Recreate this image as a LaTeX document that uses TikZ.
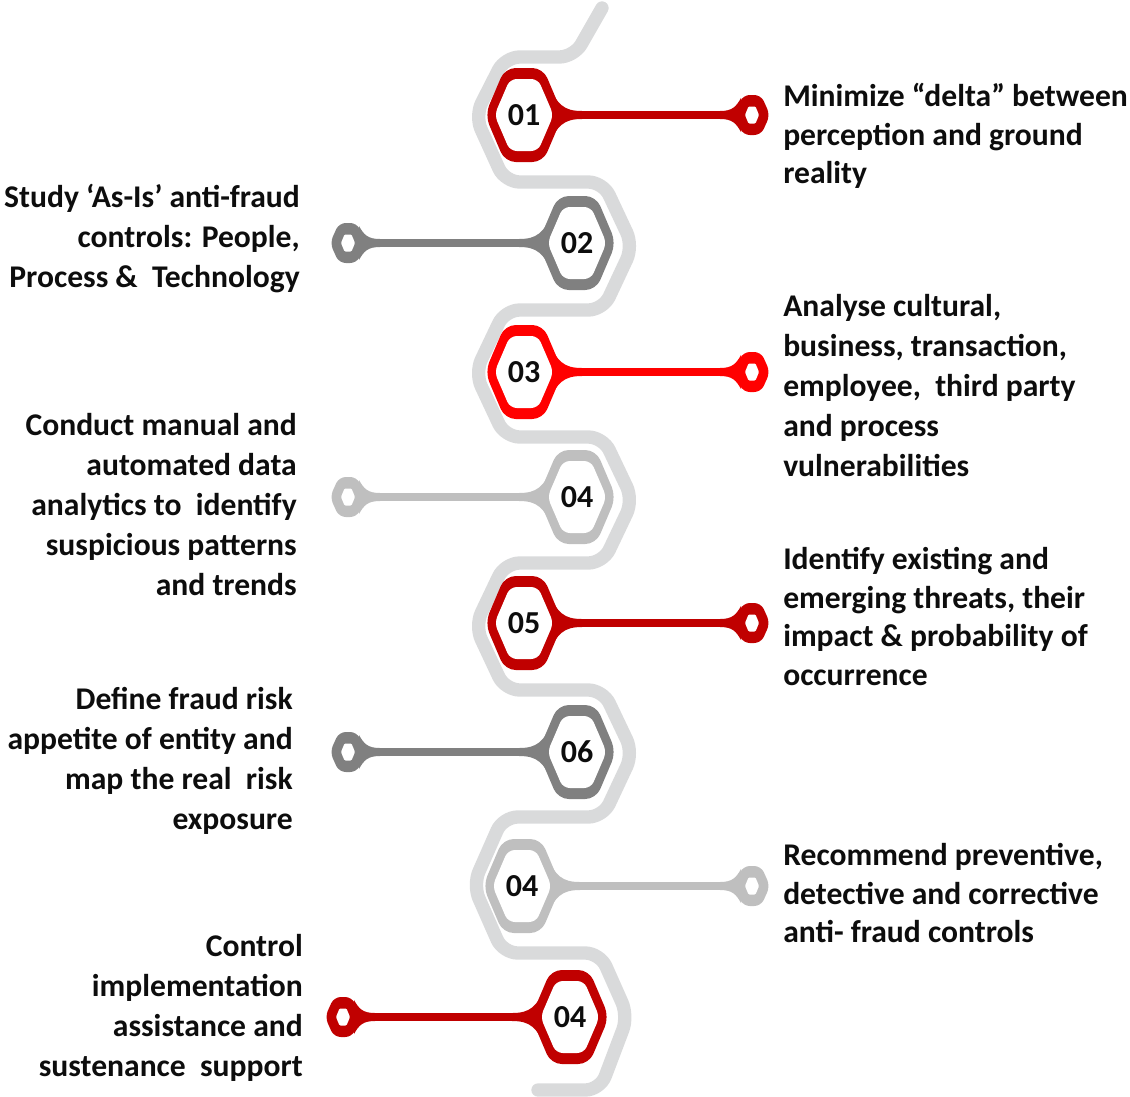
\documentclass[tikz,border=0pt]{standalone}
\usepackage{fontspec}
\setmainfont{Carlito}
\definecolor{darkred}{HTML}{C00000}
\definecolor{brightred}{HTML}{FF0000}
\definecolor{midgray}{HTML}{808080}
\definecolor{palegray}{HTML}{BFBFBF}
\definecolor{snakegray}{HTML}{D9DADB}
\definecolor{textblack}{HTML}{0D0D0D}
\begin{document}
\begin{tikzpicture}[x=0.75pt,y=0.75pt,yscale=-1,xscale=1,
	snake/.style={draw=snakegray, line width=10pt, rounded corners=11pt, line cap=round, line join=round},
	conn/.style={line width=6pt},
	num/.style={font=\fontsize{24}{28}\selectfont\bfseries, text=textblack, inner sep=0pt},
	txt/.style={font=\fontsize{23.7}{30}\selectfont\bfseries, text=textblack, inner sep=0pt},
	txtb/.style={font=\fontsize{23.7}{29}\selectfont\bfseries, text=textblack, inner sep=0pt},
	bighex/.pic={
		\fill [rounded corners=8pt] (-39,0) -- (-19,-47) -- (19,-47) -- (39,0) -- (19,47) -- (-19,47) -- cycle;
		\fill [white, rounded corners=5pt] (-29.5,0) -- (-14,-36) -- (14,-36) -- (29.5,0) -- (14,36) -- (-14,36) -- cycle;
	},
	endhex/.pic={
		\fill [rounded corners=5pt] (-18,0) -- (-9,-20) -- (9,-20) -- (18,0) -- (9,20) -- (-9,20) -- cycle;
		\fill [white, rounded corners=0.8pt] (-7,0) -- (-3.5,-8.5) -- (3.5,-8.5) -- (7,0) -- (3.5,8.5) -- (-3.5,8.5) -- cycle;
	},
	bigflare/.pic={
		\fill (24,-32) .. controls (33,-10) and (40,-4) .. (58,-4) -- (58,4) .. controls (40,4) and (33,10) .. (24,32) -- cycle;
	},
	endflare/.pic={
		\fill (-32,-4) .. controls (-20,-4) and (-16,-8) .. (-11,-17) -- (-11,17) .. controls (-16,8) and (-20,4) .. (-32,4) -- cycle;
	}]
	\useasboundingbox (0,0) rectangle (1130,1096);
	
	%hexagon centres and end points
	\coordinate (h1) at (524,115);  \coordinate (e1) at (752,115);
	\coordinate (h2) at (577,243);  \coordinate (e2) at (348,243);
	\coordinate (h3) at (524,372);  \coordinate (e3) at (752,372);
	\coordinate (h4) at (577,497);  \coordinate (e4) at (348,497);
	\coordinate (h5) at (524,623);  \coordinate (e5) at (752,623);
	\coordinate (h6) at (577,752);  \coordinate (e6) at (348,752);
	\coordinate (h7) at (522,886);  \coordinate (e7) at (752,886);
	\coordinate (h8) at (570,1017); \coordinate (e8) at (343,1017);
	
	%Snake
	\draw [snake] (602,8) -- (574,57) -- (505,57) -- (475,116) -- (505,182) -- (603,182) -- (633,246) -- (603,310) -- (505,310) -- (475,373) -- (505,437) -- (603,437) -- (633,500) -- (603,563) -- (505,563) -- (475,626) -- (505,690) -- (603,690) -- (633,753) -- (603,817) -- (503,817) -- (473,885) -- (503,953) -- (600,953) -- (628,1016) -- (600,1090) -- (538,1090) ;
	
	%Connectors
	\draw [conn, darkred] (h1) -- (e1) ;
	\draw [conn, midgray] (h2) -- (e2) ;
	\draw [conn, brightred] (h3) -- (e3) ;
	\draw [conn, palegray] (h4) -- (e4) ;
	\draw [conn, darkred] (h5) -- (e5) ;
	\draw [conn, midgray] (h6) -- (e6) ;
	\draw [conn, palegray] (h7) -- (e7) ;
	\draw [conn, darkred] (h8) -- (e8) ;
	
	%Flares
	\pic [darkred] at (h1) {bigflare};  \pic [darkred] at (e1) {endflare};
	\pic [midgray, xscale=-1] at (h2) {bigflare};  \pic [midgray, xscale=-1] at (e2) {endflare};
	\pic [brightred] at (h3) {bigflare};  \pic [brightred] at (e3) {endflare};
	\pic [palegray, xscale=-1] at (h4) {bigflare};  \pic [palegray, xscale=-1] at (e4) {endflare};
	\pic [darkred] at (h5) {bigflare};  \pic [darkred] at (e5) {endflare};
	\pic [midgray, xscale=-1] at (h6) {bigflare};  \pic [midgray, xscale=-1] at (e6) {endflare};
	\pic [palegray] at (h7) {bigflare};  \pic [palegray] at (e7) {endflare};
	\pic [darkred, xscale=-1] at (h8) {bigflare};  \pic [darkred, xscale=-1] at (e8) {endflare};
	
	%Hexagons
	\pic [darkred] at (h1) {bighex};  \pic [darkred] at (e1) {endhex};
	\pic [midgray] at (h2) {bighex};  \pic [midgray] at (e2) {endhex};
	\pic [brightred] at (h3) {bighex};  \pic [brightred] at (e3) {endhex};
	\pic [palegray] at (h4) {bighex};  \pic [palegray] at (e4) {endhex};
	\pic [darkred] at (h5) {bighex};  \pic [darkred] at (e5) {endhex};
	\pic [midgray] at (h6) {bighex};  \pic [midgray] at (e6) {endhex};
	\pic [palegray] at (h7) {bighex};  \pic [palegray] at (e7) {endhex};
	\pic [darkred] at (h8) {bighex};  \pic [darkred] at (e8) {endhex};
	
	%Numbers
	\node [num] (n1) at (h1) {01};
	\node [num] (n2) at (h2) {02};
	\node [num] (n3) at (h3) {03};
	\node [num] (n4) at (h4) {04};
	\node [num] (n5) at (h5) {05};
	\node [num] (n6) at (h6) {06};
	\node [num] (n7) at (h7) {04};
	\node [num] (n8) at (h8) {04};
	
	%Texts
	\node [txtb, anchor=north west, align=left] (t1) at (783,79) {\strut Minimize “delta” between\\perception and ground\\reality};
	
	\node [txt, anchor=north east, align=right] (t2) at (300,179) {\strut Study ‘As-Is’ anti-fraud\\controls: People,\\Process \&~ Technology};
	
	\node [txt, anchor=north west, align=left] (t3) at (783,288) {\strut Analyse cultural,\\business, transaction,\\employee,~ third party\\and process\\vulnerabilities};
	
	\node [txt, anchor=north east, align=right] (t4) at (297,407) {\strut Conduct manual and\\automated data\\analytics to~ identify\\suspicious patterns\\and trends};
	
	\node [txtb, anchor=north west, align=left] (t5) at (783,542) {\strut Identify existing and\\emerging threats, their\\impact \& probability of\\occurrence};
	
	\node [txt, anchor=north east, align=right] (t6) at (293,681) {\strut Define fraud risk\\appetite of entity and\\map the real~ risk\\exposure};
	
	\node [txtb, anchor=north west, align=left] (t7) at (783,838) {\strut Recommend preventive,\\detective and corrective\\anti- fraud controls};
	
	\node [txt, anchor=north east, align=right] (t8) at (303,928) {\strut Control\\implementation\\assistance and\\sustenance~ support};
	
\end{tikzpicture}
\end{document}
